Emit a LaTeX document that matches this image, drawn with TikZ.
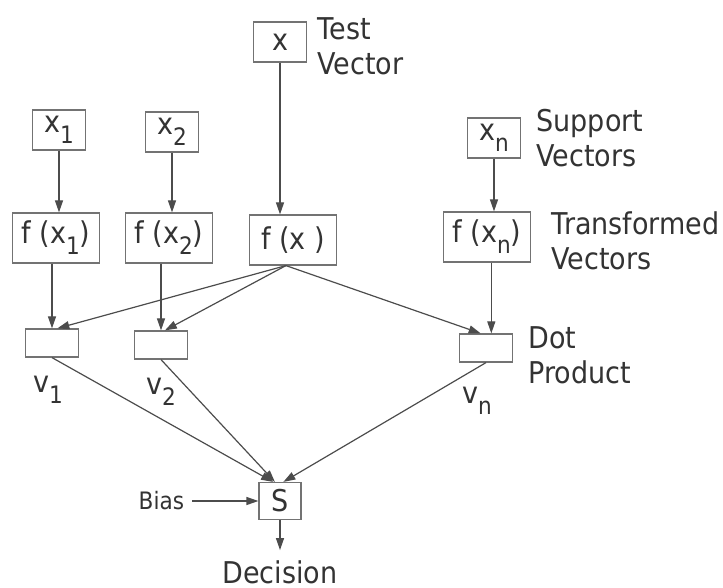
\documentclass[tikz,border=0pt]{standalone}
\usepackage{fontspec}
\setmainfont{DejaVu Sans}[FakeStretch=0.9]
\usepackage{tikz}
\usetikzlibrary{arrows.meta,positioning,calc}
\newcommand{\lowidx}[1]{\raisebox{-5.5pt}{\fontsize{12}{12}\selectfont #1}}

\begin{document}
\begin{tikzpicture}[x=0.5pt, y=-0.5pt, font=\fontsize{15}{17.5}\selectfont,
  every node/.style={text=black!80},
  box/.style={draw=black!55, line width=0.6pt, fill=white, inner sep=0pt},
  inbox/.style={box, minimum width=26.5pt, minimum height=20pt},
  fbox/.style={box, minimum width=43.5pt, minimum height=25pt},
  dotbox/.style={box, minimum width=26.5pt, minimum height=14pt},
  sumbox/.style={box, minimum width=21pt, minimum height=18.5pt},
  conn/.style={draw=black!70, line width=0.6pt, -{Triangle[length=6pt,width=4pt]}},
  tag/.style={align=left, inner sep=0pt, anchor=west}]
  \useasboundingbox (0,0) rectangle (723,588);

  % inputs
  \node (x) [inbox] at (280,42) {x};
  \node (x1) [inbox] at (59,130) {x\lowidx{1}};
  \node (x2) [inbox] at (172,132) {x\lowidx{2}};
  \node (xn) [inbox] at (494,138) {x\lowidx{n}};
  \node (lx) [tag, right=5pt of x, yshift=-2pt] {Test\\Vector};
  \node (lxn) [tag, right=7.5pt of xn] {Support\\Vectors};

  % transformed
  \node (fx1) [fbox] at (56,238) {f (x\lowidx{1})};
  \node (fx2) [fbox] at (169,238) {f (x\lowidx{2})};
  \node (fx) [fbox] at (293,240) {f (x )};
  \node (fxn) [fbox] at (487,237) {f (x\lowidx{n})};
  \node (lfxn) [tag, right=10pt of fxn, yshift=-2pt] {Transformed\\Vectors};

  % dot products
  \node (v1) [dotbox] at (52,343) {};
  \node (v2) [dotbox] at (161,345) {};
  \node (vn) [dotbox] at (486,348) {};
  \node (lv1) [inner sep=0pt, below=9pt of v1, xshift=-2pt] {v\lowidx{1}};
  \node (lv2) [inner sep=0pt, below=9pt of v2] {v\lowidx{2}};
  \node (lvn) [inner sep=0pt, below=12pt of vn, xshift=-4.5pt] {v\lowidx{n}};
  \node (lvd) [tag, right=7.5pt of vn, yshift=-3.5pt] {Dot\\Product};

  % sum
  \node (S) [sumbox] at (280,501) {S};
  \node (bias) [inner sep=0pt, left=37pt of S, font=\fontsize{12}{14}\selectfont] {Bias};
  \node (dec) [inner sep=0pt, below=20pt of S] {Decision};

  \draw[conn] (x) -- (x |- fx.north);
  \foreach \c in {1,2,n}
    \draw[conn] (x\c) -- (x\c |- fx\c.north);
  \draw[conn] (fx1.south -| v1) -- (v1.north);
  \draw[conn] (fx2.south -| v2) -- (v2.north);
  \draw[conn] (fxn.south -| vn.70) -- (vn.70);
  \coordinate (fxo) at ($(fx.south west)!0.42!(fx.south east)$);
  \draw[conn] (fxo) -- (v1.70);
  \draw[conn] (fxo) -- (v2.75);
  \draw[conn] (fxo) -- (vn.110);
  \draw[conn] (v1.south) -- (S.110);
  \draw[conn] (v2.south) -- (S.105);
  \draw[conn] (vn.south) -- (S.80);
  \draw[conn, shorten <=4pt] (bias) -- (S);
  \draw[conn, shorten >=5pt] (S) -- (dec);
\end{tikzpicture}
\end{document}
